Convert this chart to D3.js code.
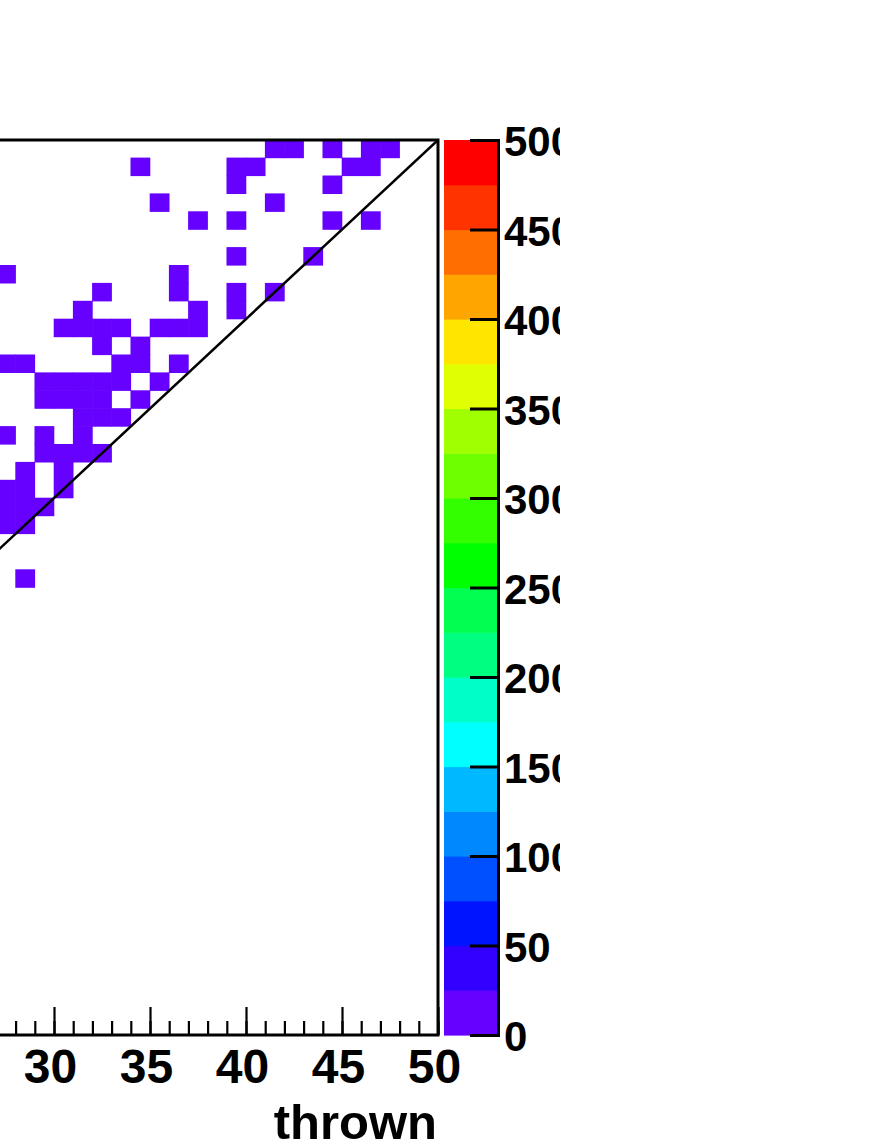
<!DOCTYPE html>
<html>
<head>
<meta charset="utf-8">
<script src="https://cdn.jsdelivr.net/npm/d3@7"></script>
<style>
  html, body { margin: 0; padding: 0; background: #fff; }
  svg { display: block; }
  text { font-family: "Liberation Sans", Arial, Helvetica, sans-serif; font-weight: bold; fill: #000; }
</style>
</head>
<body>
<svg id="chart" width="873" height="1143"></svg>
<script>
  // histogram binning (thrown on x, same range on y)
  var X_DOMAIN = [0, 50]
  var Y_DOMAIN = [0, 50]
  var Z_DOMAIN = [0, 500]

  // filled bins, one row per y bin: [yBin, [xBins...]]
  var cellRows = [
    [49, [41, 42, 44, 46, 47]],
    [48, [34, 39, 40, 45, 46]],
    [47, [39, 44]],
    [46, [35, 41]],
    [45, [37, 39, 44, 46]],
    [43, [39, 43]],
    [42, [27, 36]],
    [41, [32, 36, 39, 41]],
    [40, [31, 37, 39]],
    [39, [30, 31, 32, 33, 35, 36, 37]],
    [38, [32, 34]],
    [37, [27, 28, 33, 34, 36]],
    [36, [29, 30, 31, 32, 33, 35]],
    [35, [29, 30, 31, 32, 34]],
    [34, [31, 32, 33]],
    [33, [27, 29, 31]],
    [32, [29, 30, 31, 32]],
    [31, [28, 30]],
    [30, [27, 28, 30]],
    [29, [27, 28, 29]],
    [28, [27, 28]],
    [25, [28]]
  ]
  // every visible bin sits in the lowest colour band
  var cellCount = 1

  var xMajorTicks = [0, 5, 10, 15, 20, 25, 30, 35, 40, 45, 50]
  var xMinorTicks = d3.range(0, 51, 1)
  var zTicks = [0, 50, 100, 150, 200, 250, 300, 350, 400, 450, 500]
  var PALETTE = ['#6600ff', '#3300ff', '#0014ff', '#0050ff', '#0088ff',
    '#00b8ff', '#00ffff', '#00ffc8', '#00ff80', '#00ff50',
    '#00ff00', '#33ff00', '#6eff00', '#a0ff00', '#e0ff00',
    '#ffe600', '#ffa500', '#ff6e00', '#ff3300', '#ff0000']
  var X_TITLE = 'thrown'

  // frame geometry (the pad is cut at the left edge of the page)
  var FRAME = { left: -522, right: 438, top: 140, bottom: 1035 }
  var PAL = { left: 444, right: 498 }

  var svg = d3.select('#chart')
  var defs = svg.append('defs')
  defs.append('clipPath').attr('id', 'page')
    .append('rect').attr('x', 0).attr('y', 0).attr('width', 560).attr('height', 1143)
  defs.append('clipPath').attr('id', 'frame')
    .append('rect')
    .attr('x', FRAME.left).attr('y', FRAME.top)
    .attr('width', FRAME.right - FRAME.left).attr('height', FRAME.bottom - FRAME.top)

  var root = svg.append('g').attr('clip-path', 'url(#page)')

  var x = d3.scaleLinear().domain(X_DOMAIN).range([FRAME.left, FRAME.right])
  var y = d3.scaleLinear().domain(Y_DOMAIN).range([FRAME.bottom, FRAME.top])
  var z = d3.scaleLinear().domain(Z_DOMAIN).range([FRAME.bottom, FRAME.top])
  var color = d3.scaleQuantize().domain(Z_DOMAIN).range(PALETTE)

  var cells = []
  cellRows.forEach(function (row) {
    row[1].forEach(function (xb) {
      cells.push({ x: xb, y: row[0], v: cellCount })
    })
  })

  var plot = root.append('g').attr('clip-path', 'url(#frame)')
  plot.selectAll('rect.cell')
    .data(cells)
    .enter().append('rect')
    .attr('class', 'cell')
    .attr('x', function (d) { return x(d.x) - 0.3 })
    .attr('y', function (d) { return y(d.y + 1) - 0.3 })
    .attr('width', function (d) { return x(d.x + 1) - x(d.x) + 0.6 })
    .attr('height', function (d) { return y(d.y) - y(d.y + 1) + 0.6 })
    .attr('fill', function (d) { return color(d.v) })

  // y = x reference line
  plot.append('path')
    .datum([[X_DOMAIN[0], Y_DOMAIN[0]], [X_DOMAIN[1], Y_DOMAIN[1]]])
    .attr('d', d3.line().x(function (d) { return x(d[0]) }).y(function (d) { return y(d[1]) }))
    .attr('stroke', '#000').attr('stroke-width', 2.5).attr('fill', 'none')

  // x axis: minor then major ticks, pointing inward
  var minorAxis = d3.axisBottom(x).tickValues(xMinorTicks).tickSize(-14).tickFormat('')
  var majorAxis = d3.axisBottom(x).tickValues(xMajorTicks).tickSize(-28).tickFormat(d3.format('d'))
  var gMinor = root.append('g').attr('transform', 'translate(0,' + FRAME.bottom + ')').call(minorAxis)
  var gMajor = root.append('g').attr('transform', 'translate(0,' + FRAME.bottom + ')').call(majorAxis)
  ;[gMinor, gMajor].forEach(function (g) {
    g.select('.domain').remove()
    g.selectAll('line').attr('stroke', '#000').attr('stroke-width', 2.2)
  })
  // labels left of the page edge are never seen
  gMajor.selectAll('.tick')
    .filter(function (d) { return x(d) < 20 })
    .select('text').remove()
  gMajor.selectAll('text')
    .attr('y', 48).attr('dy', 0).attr('dx', -4)
    .style('font-size', '48px')

  root.append('text')
    .attr('x', 437).attr('y', 1139)
    .attr('text-anchor', 'end')
    .style('font-size', '49px')
    .text(X_TITLE)

  // frame
  root.append('rect')
    .attr('x', FRAME.left).attr('y', FRAME.top)
    .attr('width', FRAME.right - FRAME.left).attr('height', FRAME.bottom - FRAME.top)
    .attr('fill', 'none').attr('stroke', '#000').attr('stroke-width', 3)

  // colour palette
  var bandStep = (Z_DOMAIN[1] - Z_DOMAIN[0]) / PALETTE.length
  root.append('g').selectAll('rect')
    .data(PALETTE)
    .enter().append('rect')
    .attr('x', PAL.left)
    .attr('y', function (d, i) { return z((i + 1) * bandStep) })
    .attr('width', PAL.right - PAL.left)
    .attr('height', function (d, i) { return z(i * bandStep) - z((i + 1) * bandStep) + 0.6 })
    .attr('fill', function (d) { return d })

  var zAxis = d3.axisRight(z).tickValues(zTicks).tickSize(-28).tickPadding(6).tickFormat(d3.format('d'))
  var gz = root.append('g').attr('transform', 'translate(' + PAL.right + ',0)').call(zAxis)
  gz.select('.domain').attr('stroke', '#000').attr('stroke-width', 3)
  gz.selectAll('line').attr('stroke', '#000').attr('stroke-width', 3)
  gz.selectAll('text').attr('dy', '0.38em').style('font-size', '42px')
</script>
</body>
</html>
